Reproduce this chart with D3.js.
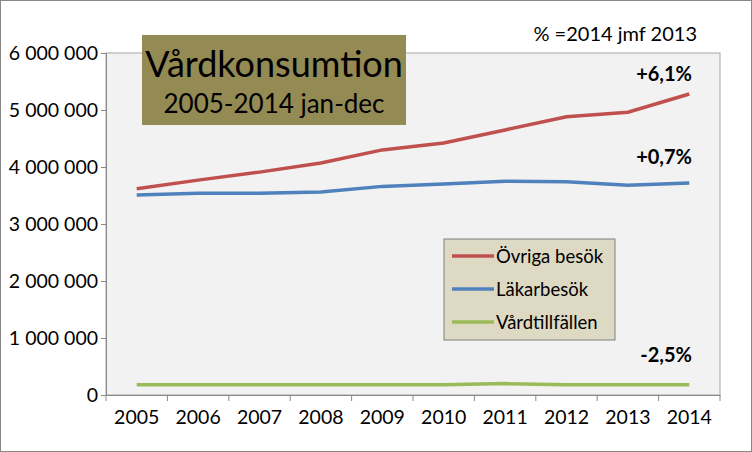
<!DOCTYPE html>
<html><head><meta charset="utf-8">
<script src="https://cdn.jsdelivr.net/npm/d3@7"></script>
<style>body{margin:0;background:#fff}text{font-family:Lato,"Open Sans",sans-serif}</style>
</head><body><svg id="c" width="752" height="452"></svg>
<script>
// Data
const years = ["2005","2006","2007","2008","2009","2010","2011","2012","2013","2014"];
const ovriga = [3620000,3770000,3910000,4070000,4300000,4420000,4650000,4880000,4960000,5280000];
const lakar  = [3510000,3540000,3540000,3560000,3660000,3700000,3750000,3740000,3680000,3720000];
const vard   = [180000,180000,180000,180000,180000,180000,200000,180000,180000,180000];
const yTicks = [0,1000000,2000000,3000000,4000000,5000000,6000000];
const series = [
  {name:"Övriga besök", values:ovriga, color:"#c0504d", label:"+6,1%"},
  {name:"Läkarbesök", values:lakar, color:"#4f81bd", label:"+0,7%"},
  {name:"Vårdtillfällen", values:vard, color:"#9bbb59", label:"-2,5%"}
];

const svg = d3.select("#c");
const m = {left:106, right:720, top:53, bottom:395};
svg.append("rect").attr("x",0.5).attr("y",0.5).attr("width",751).attr("height",451).attr("fill","#fff").attr("stroke","#888");
svg.append("rect").attr("x",m.left).attr("y",m.top).attr("width",m.right-m.left).attr("height",m.bottom-m.top).attr("fill","#f2f2f2").attr("stroke","#a6a6a6");

const x = d3.scaleBand().domain(years).range([m.left,m.right]);
const y = d3.scaleLinear().domain([0,6000000]).range([m.bottom,m.top]);
const fmt = v => d3.format(",")(v).replace(/,/g," ");

const ya = svg.append("g").attr("transform",`translate(${m.left},0)`)
  .call(d3.axisLeft(y).tickValues(yTicks).tickFormat(fmt).tickSizeOuter(0).tickSize(5));
ya.selectAll("text").attr("font-size",19.5).attr("fill","#000").attr("x",-8);
ya.selectAll("line,path").attr("stroke","#888");

const xa = svg.append("g").attr("transform",`translate(0,${m.bottom})`)
  .call(d3.axisBottom(x).tickSize(0).tickSizeOuter(0));
xa.selectAll("text").attr("font-size",19.5).attr("fill","#000").attr("dy","1.35em");
xa.selectAll("path").attr("stroke","#888");
xa.selectAll(".sep").data(years.concat(["end"])).join("line")
  .attr("x1",(d,i)=>m.left+i*x.step()).attr("x2",(d,i)=>m.left+i*x.step())
  .attr("y1",0).attr("y2",6).attr("stroke","#888");

const line = d3.line().x((d,i)=>x(years[i])+x.bandwidth()/2).y(d=>y(d));
series.forEach(s=>{
  svg.append("path").datum(s.values).attr("d",line).attr("fill","none")
    .attr("stroke",s.color).attr("stroke-width",3.5);
});

// percent labels
const lblY = [72, 155, 353];
series.forEach((s,i)=>svg.append("text").attr("x",692).attr("y",lblY[i]+9).attr("text-anchor","end")
  .attr("font-size",20).attr("font-weight","bold").text(s.label));
svg.append("text").attr("x",697).attr("y",41).attr("text-anchor","end").attr("font-size",20).text("% =2014 jmf 2013");

// title box
svg.append("rect").attr("x",142).attr("y",35).attr("width",264).attr("height",90).attr("fill","#948a54");
svg.append("text").attr("x",274).attr("y",77).attr("text-anchor","middle").attr("font-size",36).text("Vårdkonsumtion");
svg.append("text").attr("x",274).attr("y",113).attr("text-anchor","middle").attr("font-size",26).text("2005-2014 jan-dec");

// legend
const lg = svg.append("g").attr("transform","translate(444,239)");
lg.append("rect").attr("width",171).attr("height",101).attr("fill","#ddd9c3").attr("stroke","#7f7f7f");
series.forEach((s,i)=>{
  const yy = 17 + i*33;
  lg.append("line").attr("x1",8).attr("x2",50).attr("y1",yy).attr("y2",yy).attr("stroke",s.color).attr("stroke-width",3.5);
  lg.append("text").attr("x",52).attr("y",yy+7).attr("font-size",18.5).text(s.name);
});
</script></body></html>
